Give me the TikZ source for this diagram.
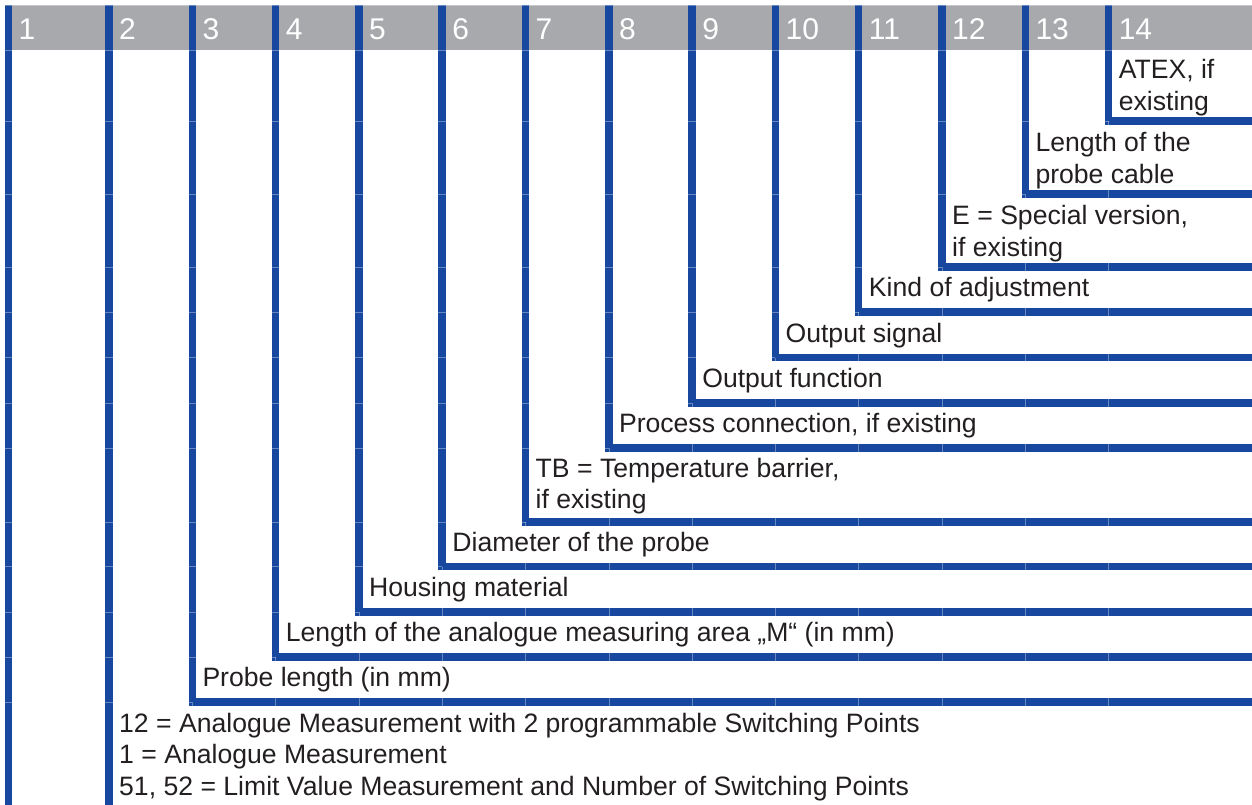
\documentclass[tikz,border=0pt]{standalone}
\usepackage{fontspec}
\setmainfont{Liberation Sans}
\newfontfamily\labelfam{Liberation Sans}
\newcommand\lblfont{\labelfam\fontsize{26.6}{31.5}\selectfont}
\newcommand\hdrfont{\labelfam\fontsize{30}{34}\selectfont}
\definecolor{blu}{RGB}{23,71,158}
\definecolor{hdrgray}{RGB}{168,169,173}
\definecolor{txt}{RGB}{35,31,32}
\begin{document}
\begin{tikzpicture}[x=1pt,y=-1pt,
  bar/.style={draw=blu,line width=7.5pt,line join=miter,line cap=butt},
  gridline/.style={draw=white,opacity=0.35,line width=0.6pt},
  lbl/.style={anchor=base west,inner sep=0pt,font=\lblfont,text=txt},
  hdr/.style={anchor=base west,inner sep=0pt,font=\hdrfont,text=white}]
\useasboundingbox (0,0) rectangle (1252,805);
\clip (0,0) rectangle (1252,805);
% header band
\fill[hdrgray] (5,5) rectangle (1260,50);
% column bars (L shapes)
\draw[bar] (8.5,5) -- (8.5,812);
\draw[bar] (109,5) -- (109,812);
\foreach \x/\y in {192.3/702, 275.6/657, 358.9/612, 442.2/566.7, 525.5/522,
  608.8/448, 692.1/403, 775.4/357.5, 858.7/312, 942/267, 1025.3/194, 1108.6/121}
  \draw[bar] (\x,5) -- (\x,\y) -- (1262,\y);
% faint table grid (thin cell borders crossing the thick ones)
\foreach \x/\y in {192.3/702, 275.6/657, 358.9/612, 442.2/566.7, 525.5/522,
  608.8/448, 692.1/403, 775.4/357.5, 858.7/312, 942/267, 1025.3/194, 1108.6/121}
  {\draw[gridline] (\x,\y) -- (\x,805);
   \draw[gridline] (4,\y) -- (\x,\y);}
\draw[gridline] (4,50) -- (1252,50);
\draw[gridline] (4,5) -- (1252,5);
% header numbers
\foreach \k/\x in {1/8.5,2/109,3/192.3,4/275.6,5/358.9,6/442.2,7/525.5,8/608.8,
  9/692.1,10/775.4,11/858.7,12/942,13/1025.3,14/1108.6}
  \node[hdr] (h\k) at (\x+10,40) {\k};
% labels
\node[lbl] (t14a) at (1118.6,79) {ATEX, if};
\node[lbl] (t14b) at (1118.6,110.5) {existing};
\node[lbl] (t13a) at (1035.3,152) {Length of the};
\node[lbl] (t13b) at (1035.3,183.5) {probe cable};
\node[lbl] (t12a) at (952,224.5) {E = Special version,};
\node[lbl] (t12b) at (952,256) {if existing};
\node[lbl] (t11) at (868.7,296.5) {Kind of adjustment};
\node[lbl] (t10) at (785.4,342.5) {Output signal};
\node[lbl] (t9) at (702.1,387.5) {Output function};
\node[lbl] (t8) at (618.8,432.5) {Process connection, if existing};
\node[lbl] (t7a) at (535.5,477) {TB = Temperature barrier,};
\node[lbl] (t7b) at (535.5,508.5) {if existing};
\node[lbl] (t6) at (452.2,551) {Diameter of the probe};
\node[lbl] (t5) at (368.9,596) {Housing material};
\node[lbl] (t4) at (285.6,641.5) {Length of the analogue measuring area „M“ (in mm)};
\node[lbl] (t3) at (202.3,686.5) {Probe length (in mm)};
\node[lbl] (t2a) at (119,732) {12 = Analogue Measurement with 2 programmable Switching Points};
\node[lbl] (t2b) at (119,763.5) {1 = Analogue Measurement};
\node[lbl] (t2c) at (119,795) {51, 52 = Limit Value Measurement and Number of Switching Points};
\end{tikzpicture}
\end{document}
